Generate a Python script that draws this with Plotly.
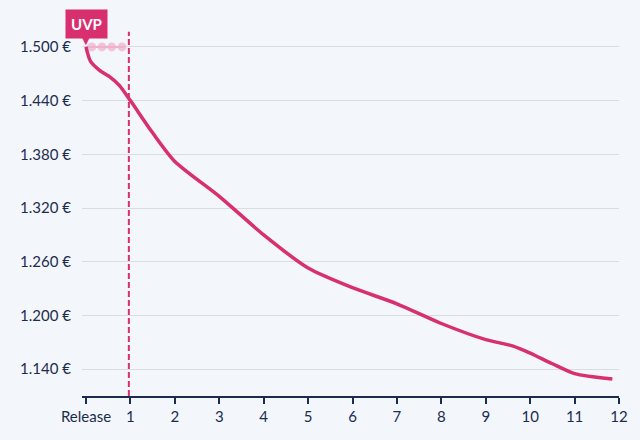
import plotly.graph_objects as go

# Data
months = [0, 0.1, 0.3, 0.55, 0.75, 1, 1.5, 2, 3, 4, 5, 6, 7, 8, 9, 9.6, 10, 10.5, 11, 11.85]
prices = [1500, 1484, 1474, 1466, 1457, 1440, 1404, 1372, 1333, 1290, 1253, 1231, 1213, 1191, 1173, 1166, 1158, 1146, 1135, 1129]
uvp_x = [0, 0.13, 0.36, 0.58, 0.81, 0.87]
uvp_y = [1500, 1500, 1500, 1500, 1500, 1500]
uvp_sizes = [0, 9, 9, 9, 9, 0]
marker_month = 0.965
tick_vals = list(range(13))
tick_text = ["Release"] + [str(i) for i in range(1, 13)]
y_ticks = [1140, 1200, 1260, 1320, 1380, 1440, 1500]
y_text = ["1.140 €", "1.200 €", "1.260 €", "1.320 €", "1.380 €", "1.440 €", "1.500 €"]

PINK = "#d8306f"
LIGHT = "#efb1cb"
NAVY = "#1b2d4f"
BG = "#f3f6fa"

fig = go.Figure()
fig.add_trace(go.Scatter(x=uvp_x, y=uvp_y, mode="lines+markers",
                         line=dict(color=LIGHT, width=2),
                         marker=dict(color=LIGHT, size=uvp_sizes, symbol="circle", line=dict(width=0)),
                         hoverinfo="skip", showlegend=False))
fig.add_trace(go.Scatter(x=months, y=prices, mode="lines",
                         line=dict(color=PINK, width=3.5, shape="spline", smoothing=0.7),
                         showlegend=False))

fig.add_shape(type="line", x0=marker_month, x1=marker_month, y0=1110, y1=1517,
              line=dict(color=PINK, width=2, dash="6px,3px"), layer="above")

fig.add_annotation(x=0, y=1500, text="<b>UVP</b>", showarrow=False,
                   yanchor="bottom", yshift=8, bgcolor=PINK, borderpad=5,
                   font=dict(color="white", size=15, family="Lato"))
fig.add_annotation(x=0, y=1500, text="▼", showarrow=False,
                   yanchor="bottom", yshift=-1,
                   font=dict(color=PINK, size=10, family="DejaVu Sans"))

fig.update_layout(
    width=640, height=440,
    margin=dict(l=82, r=19, t=29, b=44),
    paper_bgcolor=BG, plot_bgcolor=BG,
    font=dict(family="Lato", size=15, color=NAVY),
    xaxis=dict(range=[-0.09, 12], tickvals=tick_vals, ticktext=tick_text,
               showgrid=False, zeroline=False, showline=True, linecolor=NAVY, linewidth=2,
               ticks="outside", ticklen=6, tickcolor=NAVY, tickwidth=1.5,
               tickfont=dict(size=15, color=NAVY)),
    yaxis=dict(range=[1110, 1520], tickvals=y_ticks, ticktext=y_text,
               showgrid=True, gridcolor="#d9dde2", gridwidth=1, zeroline=False,
               showline=False, ticks="", ticklabelstandoff=10,
               tickfont=dict(size=15, color=NAVY)),
)

fig.write_html("out.html")
